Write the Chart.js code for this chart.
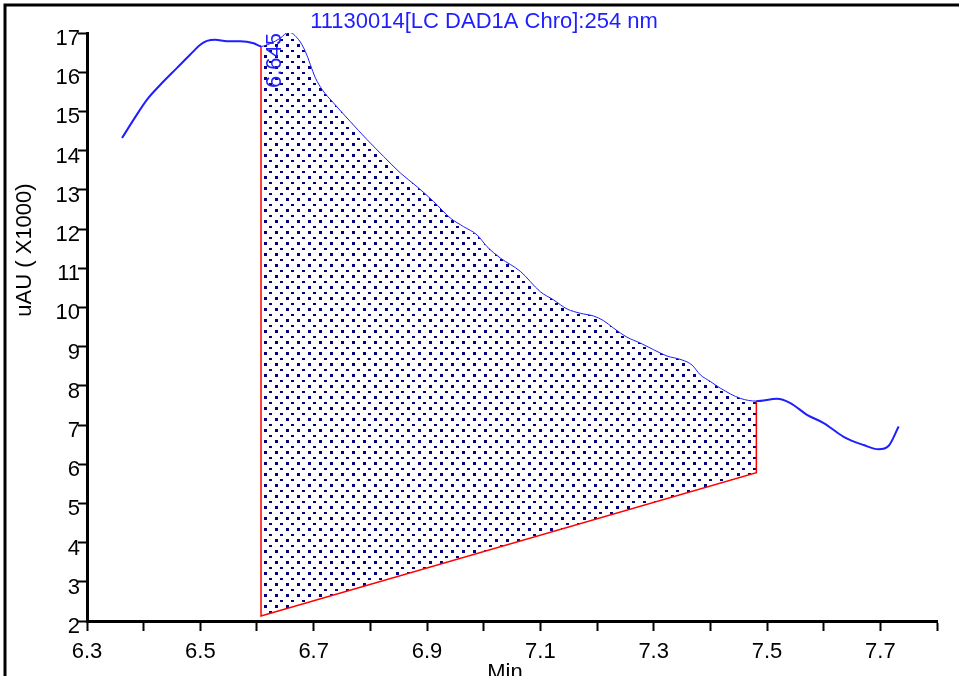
<!DOCTYPE html>
<html>
<head>
<meta charset="utf-8">
<script src="https://cdn.jsdelivr.net/npm/chart.js@4.4.0/dist/chart.umd.min.js"></script>
<style>
  html, body { margin: 0; padding: 0; background: #fff; }
  #chart { display: block; }
</style>
</head>
<body>
<canvas id="chart" width="959" height="676"></canvas>
<script>
const chartTitle = '11130014[LC DAD1A Chro]:254 nm';
const xTitle = 'Min';
const yTitle = 'uAU ( X1000)';

// retention time (min) and signal (uAU x1000)
const time = [
    6.3618, 6.3823, 6.4059, 6.4294, 6.4589, 6.4823, 6.5000, 6.5118, 6.5265, 6.5471,
    6.5706, 6.5940, 6.6071, 6.6235, 6.6412, 6.6558, 6.6735, 6.6853, 6.7029, 6.7153,
    6.7347, 6.7647, 6.7942, 6.8235, 6.8529, 6.8824, 6.9117, 6.9412, 6.9646, 6.9883,
    7.0059, 7.0294, 7.0647, 7.1000, 7.1235, 7.1471, 7.1706, 7.1941, 7.2117, 7.2294,
    7.2530, 7.2765, 7.3000, 7.3236, 7.3500, 7.3677, 7.3823, 7.4000, 7.4176, 7.4529,
    7.4812, 7.5177, 7.5412, 7.5706, 7.6000, 7.6352, 7.6705, 7.6970, 7.7147, 7.7323
];
const signal = [
    14.32, 14.79, 15.30, 15.68, 16.11, 16.45, 16.70, 16.80, 16.83, 16.79,
    16.79, 16.74, 16.66, 16.73, 16.87, 17.02, 16.83, 16.53, 15.86, 15.55,
    15.22, 14.74, 14.28, 13.85, 13.43, 13.08, 12.70, 12.28, 12.06, 11.85,
    11.55, 11.26, 10.92, 10.40, 10.19, 9.96, 9.85, 9.78, 9.66, 9.47,
    9.24, 9.09, 8.92, 8.76, 8.66, 8.53, 8.28, 8.11, 7.94, 7.68,
    7.61, 7.67, 7.56, 7.26, 7.05, 6.70, 6.49, 6.38, 6.47, 6.96
];

// integrated peak
const peakLabel = '6.645';
const peakApex = 6.645;
const peakStart = 6.6071;
const peakEnd = 7.4812;
const baselineTime = [6.6071, 7.4812];
const baselineSignal = [2.13, 5.785];

const xMin = 6.3, xMax = 7.8, xStep = 0.1;
const yMin = 2, yMax = 17, yStep = 1;

const FONT = '"Liberation Sans", Arial, sans-serif';
const FONT_SIZE = 22;
const BLUE = '#1e1eff';

function tracePoints() {
    return time.map((t, i) => ({x: t, y: signal[i]}));
}

function peakArea() {
    const pts = [];
    for (let i = 0; i < time.length; ++i) {
        if (time[i] >= peakStart && time[i] <= peakEnd) {
            pts.push({x: time[i], y: signal[i]});
        }
    }
    pts.push({x: baselineTime[1], y: baselineSignal[1]});
    pts.push({x: baselineTime[0], y: baselineSignal[0]});
    return pts;
}

function peakBorders() {
    const first = time.indexOf(peakStart);
    const last = time.indexOf(peakEnd);
    return [
        {x: peakEnd, y: signal[last]},
        {x: baselineTime[1], y: baselineSignal[1]},
        {x: baselineTime[0], y: baselineSignal[0]},
        {x: peakStart, y: signal[first]}
    ];
}

function dotPattern(ctx) {
    const c = document.createElement('canvas');
    c.width = 11;
    c.height = 11;
    const g = c.getContext('2d');
    g.fillStyle = '#000080';
    g.fillRect(0, 0, 3, 3);
    g.fillRect(5, 6, 3, 2);
    return ctx.createPattern(c, 'repeat');
}

function inPeak(seg) {
    return seg.p0.parsed.x >= peakStart && seg.p1.parsed.x <= peakEnd;
}

const extras = {
    id: 'extras',
    afterDraw(chart) {
        const ctx = chart.ctx;
        const x = chart.scales.x;
        ctx.save();

        // frame
        ctx.strokeStyle = '#000';
        ctx.lineWidth = 3;
        ctx.beginPath();
        ctx.moveTo(5, chart.height);
        ctx.lineTo(5, 5);
        ctx.lineTo(chart.width, 5);
        ctx.stroke();

        ctx.font = FONT_SIZE + 'px ' + FONT;
        ctx.textAlign = 'center';
        ctx.textBaseline = 'middle';
        ctx.fillStyle = BLUE;
        ctx.fillText(chartTitle, 484, 22);

        ctx.fillStyle = '#000';
        ctx.fillText(xTitle, 505, 673);

        ctx.save();
        ctx.translate(25, 250);
        ctx.rotate(-Math.PI / 2);
        ctx.fillText(yTitle, 0, 0);
        ctx.restore();

        // peak retention time label
        ctx.fillStyle = BLUE;
        ctx.translate(x.getPixelForValue(peakApex) - 2, 88);
        ctx.rotate(-Math.PI / 2);
        ctx.textAlign = 'left';
        ctx.textBaseline = 'alphabetic';
        ctx.fillText(peakLabel, 0, 0);

        ctx.restore();
    }
};

const canvas = document.getElementById('chart');
const ctx = canvas.getContext('2d');

new Chart(ctx, {
    type: 'line',
    data: {
        datasets: [{
            data: tracePoints(),
            borderColor: BLUE,
            borderWidth: 2,
            pointRadius: 0,
            cubicInterpolationMode: 'monotone',
            segment: {
                borderWidth: seg => inPeak(seg) ? 1 : 2
            },
            order: 0
        }, {
            data: peakBorders(),
            borderColor: '#ff0000',
            borderWidth: 1.5,
            pointRadius: 0,
            tension: 0,
            order: 1
        }, {
            data: peakArea(),
            borderWidth: 0,
            borderColor: 'rgba(0,0,0,0)',
            backgroundColor: dotPattern(ctx),
            pointRadius: 0,
            tension: 0,
            fill: 'shape',
            order: 2
        }]
    },
    options: {
        responsive: false,
        animation: false,
        devicePixelRatio: 1,
        layout: {
            padding: {top: 33, right: 22, left: 0, bottom: 0}
        },
        plugins: {
            legend: {display: false},
            tooltip: {enabled: false},
            title: {display: false}
        },
        scales: {
            x: {
                type: 'linear',
                min: xMin,
                max: xMax,
                afterFit: scale => { scale.height = 55; },
                border: {display: true, color: '#000', width: 3},
                grid: {
                    drawOnChartArea: false,
                    drawTicks: true,
                    tickLength: 10,
                    tickWidth: 2,
                    tickColor: '#000'
                },
                ticks: {
                    stepSize: xStep,
                    autoSkip: false,
                    maxRotation: 0,
                    padding: 8,
                    color: '#000',
                    font: {family: FONT, size: FONT_SIZE},
                    callback: v => Math.round(v * 10) % 2 === 1 ? v.toFixed(1) : ''
                }
            },
            y: {
                type: 'linear',
                min: yMin,
                max: yMax,
                afterFit: scale => { scale.width = 87; },
                border: {display: true, color: '#000', width: 3},
                grid: {
                    drawOnChartArea: false,
                    drawTicks: true,
                    tickLength: 9,
                    tickWidth: 2,
                    tickColor: '#000'
                },
                ticks: {
                    stepSize: yStep,
                    autoSkip: false,
                    padding: -2,
                    labelOffset: 6,
                    color: '#000',
                    font: {family: FONT, size: FONT_SIZE}
                }
            }
        }
    },
    plugins: [extras]
});
</script>
</body>
</html>
